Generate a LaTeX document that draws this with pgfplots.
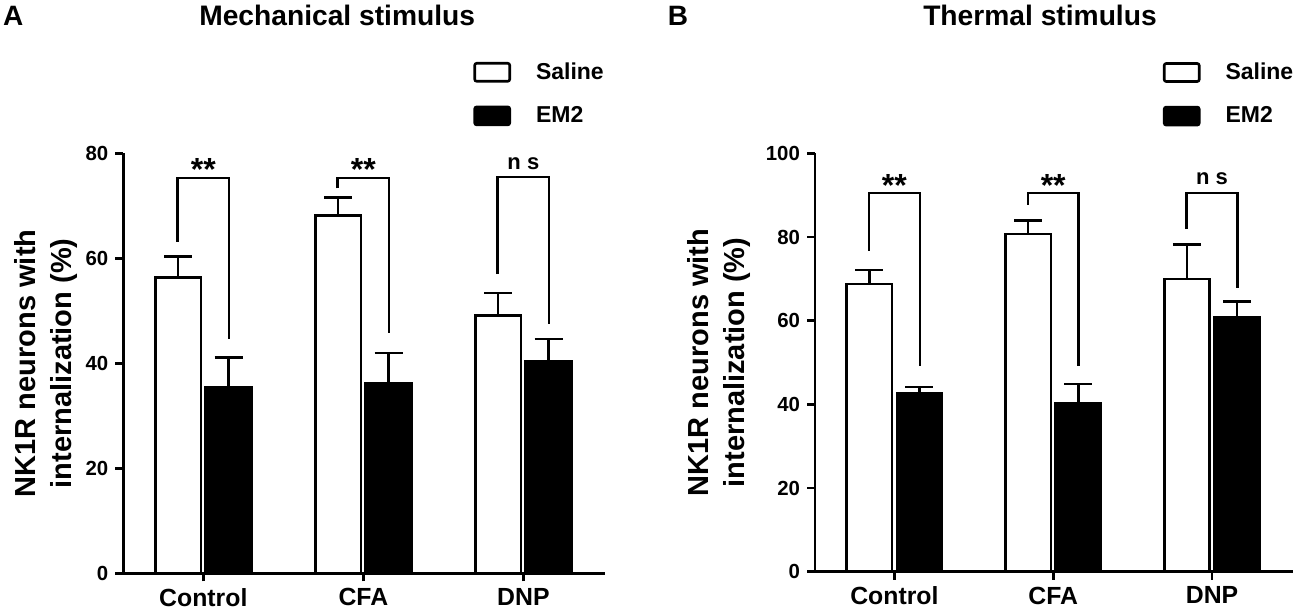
\documentclass[border=0pt]{standalone}
\usepackage{fontspec}
\setmainfont{Liberation Sans}
\usepackage{pgfplots}
\pgfplotsset{compat=1.18}
\pgfplotsset{
 panel/.style={
  scale only axis, anchor=south west,
  ybar=2.4pt, bar width=0.285,
  axis x line*=bottom, axis y line*=left,
  axis line style={-, line width=1.3pt},
  tick align=outside, major tick length=4pt,
  every tick/.style={black, line width=1.3pt},
  xmin=-0.5, xmax=2.51, ymin=0,
  xtick={0,1,2}, xticklabels={Control,CFA,DNP},
  x tick label style={font=\bfseries\fontsize{12.4}{14}\selectfont},
  y tick label style={font=\bfseries\fontsize{10.2}{12}\selectfont},
  /pgf/number format/assume math mode=true,
  ylabel={NK1R neurons with\\internalization (\%)},
  ylabel style={font=\bfseries\fontsize{14.5}{18}\selectfont, align=center, anchor=center},
  legend style={draw=none, fill=none, font=\bfseries\fontsize{11.5}{13}\selectfont, anchor=west, inner sep=0pt, row sep=11.5pt, nodes={inner sep=0pt}, column sep=12.5pt},
  legend cell align=left,
  legend image code/.code={\draw[#1, line width=1.3pt, rounded corners=1pt] (0pt,-4.5pt) rectangle (17.5pt,4.5pt);},
  error bars/y dir=plus, error bars/y explicit,
  error bars/error bar style={line width=1.3pt, black},
  error bars/error mark options={rotate=90, line width=1.3pt, black, mark size=7pt},
 },
 sal/.style={draw=black, fill=white, line width=1.3pt},
 em/.style={draw=black, fill=black, line width=1.3pt},
 brk/.style={black, line width=1.3pt, forget plot, mark=none, sharp plot},
}
\tikzset{
 stars/.style={font=\bfseries\fontsize{16}{16}\selectfont},
 nstext/.style={font=\bfseries\fontsize{11}{12}\selectfont},
}
\begin{document}
\begin{tikzpicture}[x=1pt,y=1pt]
\useasboundingbox (0,0) rectangle (650,305.5);
\node[font=\bfseries\fontsize{14}{16}\selectfont] at (6.65,297.75) {A};
\node[font=\bfseries\fontsize{14}{16}\selectfont] at (339,297.75) {B};
\node[font=\bfseries\fontsize{14.1}{16}\selectfont] at (168.6,297.75) {Mechanical stimulus};
\node[font=\bfseries\fontsize{14.1}{16}\selectfont] at (520,297.75) {Thermal stimulus};

\begin{axis}[panel, at={(61.65pt,18.85pt)}, width=240.85pt, height=210pt, ymax=80, ytick={0,20,40,60,80},
  ylabel style={at={(axis description cs:-0.16,0.5)}},
  legend style={at={(axis description cs:0.726,1.141)}}]
\addplot[sal] coordinates {(0,56.3) +- (0,4.0) (1,68.2) +- (0,3.4) (2,49.1) +- (0,4.3)};
\addlegendentry{Saline}
\addplot[em] coordinates {(0,35.4) +- (0,5.7) (1,36.2) +- (0,5.8) (2,40.3) +- (0,4.3)};
\addlegendentry{EM2}
\addplot[brk] coordinates {(-0.16,63.2) (-0.16,75.3) (0.16,75.3) (0.16,44.6)};
\addplot[brk] coordinates {(0.84,73.3) (0.84,75.3) (1.16,75.3) (1.16,45.7)};
\addplot[brk] coordinates {(1.84,57.0) (1.84,75.5) (2.16,75.5) (2.16,47.4)};
\node[stars] at (axis cs:0,76.9) {**};
\node[stars] at (axis cs:1,76.9) {**};
\node[nstext] at (axis cs:2,78.1) {n s};
\end{axis}

\begin{axis}[panel, at={(407.5pt,19.65pt)}, width=239pt, height=209.2pt, ymax=100, ytick={0,20,40,60,80,100},
  ylabel style={at={(axis description cs:-0.2,0.5)}},
  legend style={at={(axis description cs:0.727,1.141)}}]
\addplot[sal] coordinates {(0,68.75) +- (0,3.35) (1,80.7) +- (0,3.3) (2,70.0) +- (0,8.2)};
\addlegendentry{Saline}
\addplot[em] coordinates {(0,42.7) +- (0,1.4) (1,40.2) +- (0,4.7) (2,60.9) +- (0,3.7)};
\addlegendentry{EM2}
\addplot[brk] coordinates {(-0.16,76.7) (-0.16,90.5) (0.16,90.5) (0.16,49.1)};
\addplot[brk] coordinates {(0.84,87.7) (0.84,90.5) (1.16,90.5) (1.16,49.1)};
\addplot[brk] coordinates {(1.84,81.9) (1.84,90.5) (2.16,90.5) (2.16,67.9)};
\node[stars] at (axis cs:0,92.4) {**};
\node[stars] at (axis cs:1,92.4) {**};
\node[nstext] at (axis cs:2,93.9) {n s};
\end{axis}
\end{tikzpicture}
\end{document}
